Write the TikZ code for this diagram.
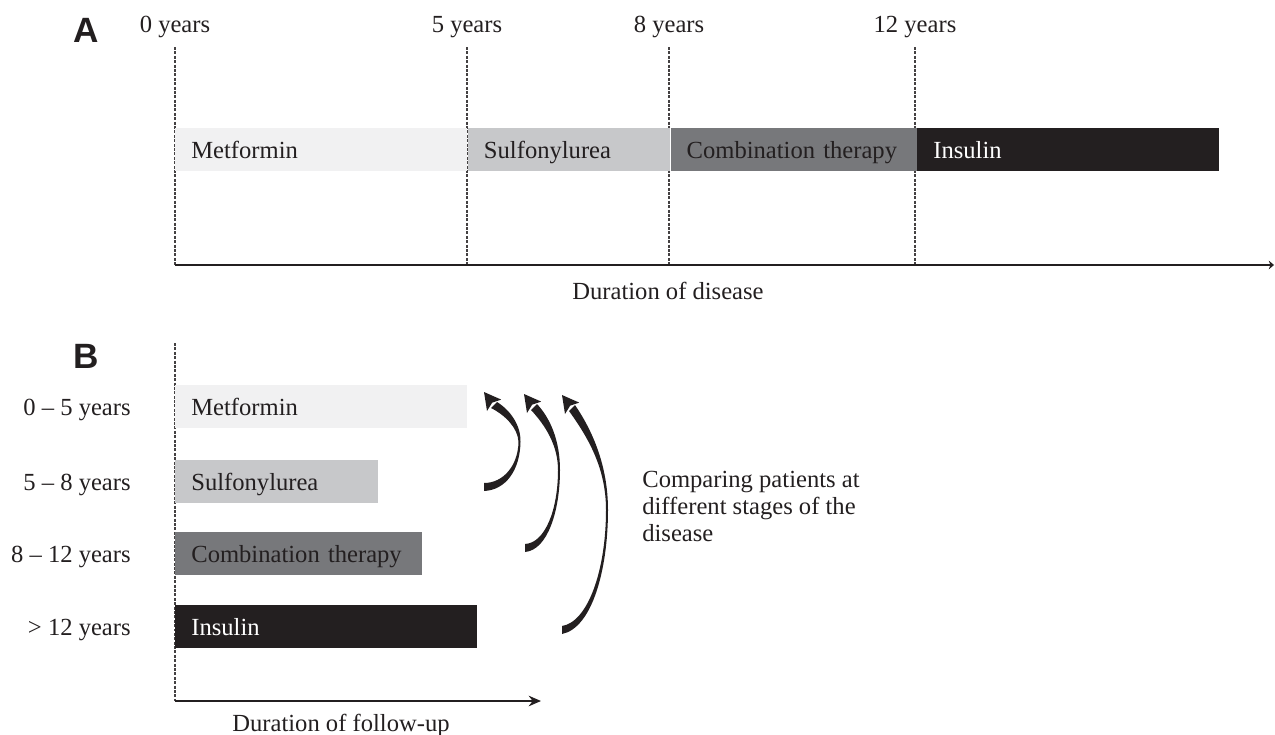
\documentclass[tikz,border=0pt]{standalone}
\usepackage{fontspec}
\setmainfont{Liberation Serif}
\newfontfamily\panelfont{Liberation Sans}
\usepackage{tikz}
\usetikzlibrary{arrows.meta,calc,
                positioning}

\definecolor{Ink}{HTML}{231F20}
\definecolor{MetGray}{HTML}{F1F1F2}
\definecolor{SulGray}{HTML}{C7C8CA}
\definecolor{ComboGray}{HTML}{77787B}

\begin{document}
\begin{tikzpicture}[x=0.02cm,y=-0.02cm]
  \tikzset{BarNode/.style = {shape = rectangle, anchor = north west, minimum height = 0.86cm, inner xsep = 0.32cm, inner ysep = 0pt, text height = 13pt, text depth = 3pt, align = left, text = Ink, font = \fontsize{14}{15.3}\selectfont}};
  \tikzset{RowLabel/.style = {inner xsep = 0pt, text height = 13pt, text depth = 3pt, text = Ink, font = \fontsize{14}{15.3}\selectfont}};
  \tikzset{PlainText/.style = {anchor = base, inner sep = 0pt, text = Ink, font = \fontsize{14}{15.3}\selectfont}};
  \tikzset{PanelLabel/.style = {text = Ink, font = \panelfont\bfseries\fontsize{20}{20}\selectfont}};
  \tikzset{TickLine/.style = {Ink!85, line width = 0.6pt, dash pattern = on 1.7pt off 0.8pt}};
  \tikzset{AxisLine/.style = {Ink, line width = 1.3pt}};
  \tikzset{SweepArrow/.style = {fill = Ink}};

  \useasboundingbox (0,0) rectangle (1275,734);

  % panel A
  \node[PanelLabel] (panel A) at (86,30) {A};
  \coordinate (axA) at (175,265);
  \coordinate (axA end) at (1274,265);
  \foreach \x/\t in {175/0, 467/5, 669/8, 915/12} {
    \node[PlainText] (tick \t) at (\x,32) {\t\ years};
    \draw[TickLine] (tick \t.base) ++(0,15) -- (tick \t.base |- axA);
  }
  \node[BarNode, fill = MetGray, text width = 5.2cm] (met A) at (175,128) {Metformin};
  \node[BarNode, fill = SulGray, text width = 3.4cm, right = 0mm of met A, anchor = west] (sul A) {Sulfonylurea};
  \node[BarNode, fill = ComboGray, text width = 4.28cm, right = 0mm of sul A, anchor = west] (combo A) {Combination therapy};
  \node[BarNode, fill = Ink, text = white, text width = 5.4cm, right = 0mm of combo A, anchor = west] (ins A) {Insulin};
  \draw[AxisLine, -{Stealth[length = 3pt, width = 5pt]}] (axA) -- (axA end);
  \node[PlainText] (dur A) at (668,299) {Duration of disease};

  % panel B
  \node[PanelLabel] (panel B) at (86,356) {B};
  \coordinate (axB top) at (175,343);
  \coordinate (axB) at (175,701);
  \coordinate (axB end) at (541,701);
  \draw[TickLine] (axB top) -- (axB);
  \node[BarNode, fill = MetGray, text width = 5.2cm] (met B) at (175,385) {Metformin};
  \node[BarNode, fill = SulGray, text width = 3.42cm, below = 0.62cm of met B.south west, anchor = north west] (sul B) {Sulfonylurea};
  \node[BarNode, fill = ComboGray, text width = 4.3cm, below = 0.56cm of sul B.south west, anchor = north west] (combo B) {Combination therapy};
  \node[BarNode, fill = Ink, text = white, text width = 5.4cm, below = 0.6cm of combo B.south west, anchor = north west] (ins B) {Insulin};
  \node[RowLabel, left = 0.88cm of met B] (row met) {0 -- 5 years};
  \node[RowLabel, left = 0.88cm of sul B] (row sul) {5 -- 8 years};
  \node[RowLabel, left = 0.88cm of combo B] (row combo) {8 -- 12 years};
  \node[RowLabel, left = 0.88cm of ins B] (row ins) {> 12 years};
  \draw[AxisLine, -{Stealth[length = 7pt, width = 6pt]}] (axB) -- (axB end);
  \node[PlainText] (dur B) at (341,731) {Duration of follow-up};

  % curved arrows back to the first row
  \fill[SweepArrow] (484,491) .. controls (506,490) and (520,470) .. (520.5,442)
    .. controls (521,425) and (510,410) .. (497,402) -- (491,408)
    .. controls (505,415) and (518,428) .. (518.5,442)
    .. controls (518,466) and (503,483) .. (484,483) -- cycle;
  \fill[SweepArrow] (484,392) -- (501.2,399.6) -- (492.2,402.6) -- (487,411) -- cycle;
  \fill[SweepArrow] (525,552) .. controls (548,550) and (560,510) .. (560,470)
    .. controls (560,440) and (550,418) .. (537,404) -- (531,410)
    .. controls (545,425) and (558,445) .. (558,470)
    .. controls (558,510) and (545,543) .. (525,544) -- cycle;
  \fill[SweepArrow] (524,394) -- (541.2,401.6) -- (532.2,404.6) -- (527,413) -- cycle;
  \fill[SweepArrow] (562,634) .. controls (592,628) and (608,570) .. (608,510)
    .. controls (608,465) and (592,430) .. (575,405) -- (569,411)
    .. controls (590,440) and (606,470) .. (606,510)
    .. controls (606,570) and (588,622) .. (562,626) -- cycle;
  \fill[SweepArrow] (562,395) -- (579.2,402.6) -- (570.2,405.6) -- (565,414) -- cycle;

  \node[anchor = north west, inner sep = 0pt, align = left, text = Ink, font = \fontsize{14}{15.3}\selectfont] (compare note) at (642,471) {Comparing patients at\\different stages of the\\disease};
\end{tikzpicture}
\end{document}
